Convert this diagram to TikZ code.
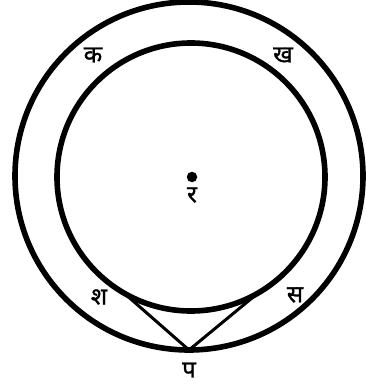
\documentclass[tikz,border=0pt]{standalone}
\usepackage{fontspec}
\newfontfamily\deva[Script=Devanagari,FakeBold=1.2]{Noto Sans}
\begin{document}
\begin{tikzpicture}[x=1pt,y=-1pt,
  ring/.style={circle,draw=black,line width=5.6pt,inner sep=0pt,outer sep=0pt},
  chord/.style={draw=black,line width=3pt},
  lbl/.style={inner sep=0pt,font=\deva\fontsize{24}{28}\selectfont}]
\useasboundingbox (0,0) rectangle (365,387);
\node[ring,minimum size=348pt] (outer) at (189,176) {};
\node[ring,minimum size=268pt] (inner) at (191,177) {};
\node[circle,fill=black,inner sep=0pt,minimum size=10.5pt] (o) at (192,177) {};
\draw[chord] (inner.-120) -- (outer.south) -- (inner.-60);
\node[lbl] (ka) at (93,55) {क};
\node[lbl] (kha) at (283,55) {ख};
\node[lbl] (ra) at (192,195) {र};
\node[lbl] (sha) at (99,297) {श};
\node[lbl] (sa) at (295,295) {स};
\node[lbl] (pa) at (189,370) {प};
\end{tikzpicture}
\end{document}
